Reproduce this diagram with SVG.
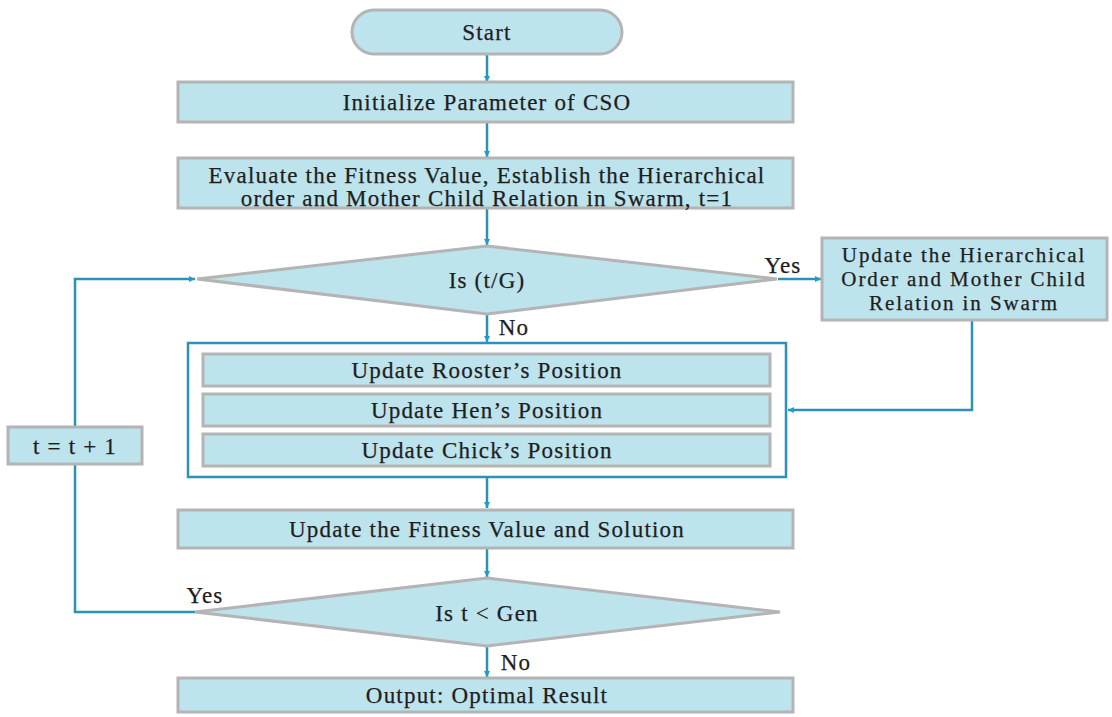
<svg xmlns="http://www.w3.org/2000/svg" width="1112" height="717" viewBox="0 0 1112 717">
<defs>
<marker id="ah" viewBox="0 0 10 10" refX="10" refY="5" markerWidth="6" markerHeight="6" orient="auto" markerUnits="userSpaceOnUse">
<path d="M0,0 L10,5 L0,10 z" fill="#1e9ccc"/>
</marker>
<style>
.box{fill:#bde3ec;stroke:#b4b4b4;stroke-width:3}
.t{font-family:"Liberation Serif","Times New Roman",serif;font-size:23px;letter-spacing:1.2px;fill:#1e1e1e;stroke:#1e1e1e;stroke-width:0.25;text-anchor:middle;dominant-baseline:central}
.s{font-size:21px;letter-spacing:1.9px}
.c{fill:none;stroke:#2a93b5;stroke-width:2.5}
.a{fill:none;stroke:#2a93b5;stroke-width:2.5;marker-end:url(#ah)}
</style>
</defs>
<rect width="1112" height="717" fill="#ffffff"/>
<g id="connectors">
<line class="a" x1="487" y1="54" x2="487" y2="82"/>
<line class="a" x1="487" y1="123" x2="487" y2="157"/>
<line class="a" x1="487" y1="208" x2="487" y2="245"/>
<line class="a" x1="778" y1="279" x2="821" y2="279"/>
<line class="a" x1="487" y1="315" x2="487" y2="342"/>
<polyline class="a" points="972,320 972,410 788,410"/>
<line class="a" x1="487" y1="478" x2="487" y2="508"/>
<line class="a" x1="487" y1="549" x2="487" y2="577"/>
<line class="a" x1="487" y1="647" x2="487" y2="677"/>
<polyline class="c" points="195,612 75,612 75,464"/>
<polyline class="a" points="75,427 75,279 195,279"/>
<text class="t" x="783" y="265">Yes</text>
<text class="t" x="514" y="327">No</text>
<text class="t" x="205" y="595">Yes</text>
<text class="t" x="516" y="662">No</text>
</g>
<g id="start">
<rect class="box" x="352" y="10" width="270" height="44" rx="22"/>
<text class="t" x="487" y="32">Start</text>
</g>
<g id="init">
<rect class="box" x="178" y="82" width="615" height="40"/>
<text class="t" x="487" y="102">Initialize Parameter of CSO</text>
</g>
<g id="evaluate">
<rect class="box" x="178" y="158" width="615" height="50"/>
<text class="t" x="487" y="175">Evaluate the Fitness Value, Establish the Hierarchical</text>
<text class="t" x="487" y="198">order and Mother Child Relation in Swarm, t=1</text>
</g>
<g id="decision1">
<polygon class="box" points="487,246 777,279 487,314 197,279"/>
<text class="t" x="487" y="280">Is (t/G)</text>
</g>
<g id="update-hierarchy">
<rect class="box" x="822" y="238" width="285" height="82"/>
<text class="t s" x="964" y="255">Update the Hierarchical</text>
<text class="t s" x="964" y="279">Order and Mother Child</text>
<text class="t s" x="964" y="303">Relation in Swarm</text>
</g>
<g id="update-group">
<rect x="188" y="343" width="598" height="134" fill="#ffffff" stroke="#2a93b5" stroke-width="2.5"/>
<g id="rooster">
<rect class="box" x="203" y="354" width="567" height="32"/>
<text class="t" x="487" y="370">Update Rooster’s Position</text>
</g>
<g id="hen">
<rect class="box" x="203" y="394" width="567" height="32"/>
<text class="t" x="487" y="410">Update Hen’s Position</text>
</g>
<g id="chick">
<rect class="box" x="203" y="434" width="567" height="32"/>
<text class="t" x="487" y="450">Update Chick’s Position</text>
</g>
</g>
<g id="fitness">
<rect class="box" x="178" y="510" width="615" height="38"/>
<text class="t" x="487" y="529">Update the Fitness Value and Solution</text>
</g>
<g id="decision2">
<polygon class="box" points="487,578 780,612 487,646 195,612"/>
<text class="t" x="487" y="613">Is t &lt; Gen</text>
</g>
<g id="increment">
<rect class="box" x="8" y="427" width="134" height="37"/>
<text class="t" x="75" y="446">t = t + 1</text>
</g>
<g id="output">
<rect class="box" x="178" y="678" width="615" height="34"/>
<text class="t" x="487" y="695">Output: Optimal Result</text>
</g>
</svg>
